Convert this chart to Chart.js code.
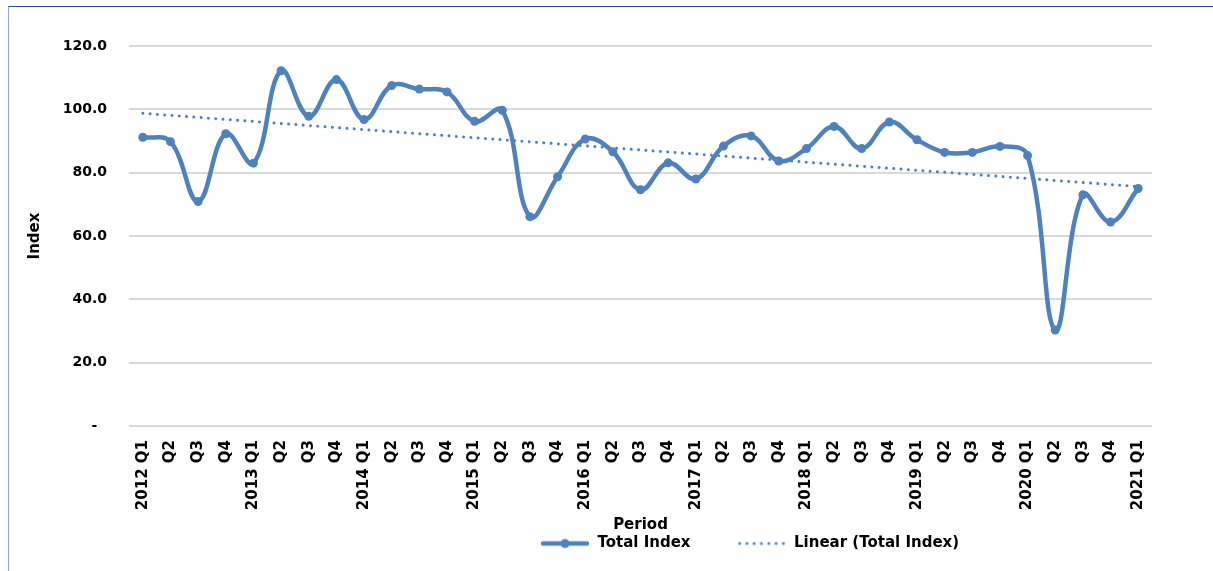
<!DOCTYPE html>
<html>
<head>
<meta charset="utf-8">
<script src="https://cdn.jsdelivr.net/npm/chart.js@4"></script>
<style>
  body { margin: 0; background: #fff; }
  .wrap { position: relative; width: 1213px; height: 571px; overflow: hidden; }
  .frame { position: absolute; left: 8px; top: 6px; width: 1300px; height: 700px;
           border-top: 1px solid #2b4a9e; border-left: 1px solid #8ea6d6; }
  canvas { position: absolute; left: 0; top: 0; }
</style>
</head>
<body>
<div class="wrap">
  <div class="frame"></div>
  <canvas id="chart" width="1213" height="571"></canvas>
</div>
<script>
// data
const periods = [
  '2012 Q1', 'Q2', 'Q3', 'Q4',
  '2013 Q1', 'Q2', 'Q3', 'Q4',
  '2014 Q1', 'Q2', 'Q3', 'Q4',
  '2015 Q1', 'Q2', 'Q3', 'Q4',
  '2016 Q1', 'Q2', 'Q3', 'Q4',
  '2017 Q1', 'Q2', 'Q3', 'Q4',
  '2018 Q1', 'Q2', 'Q3', 'Q4',
  '2019 Q1', 'Q2', 'Q3', 'Q4',
  '2020 Q1', 'Q2', 'Q3', 'Q4',
  '2021 Q1'
];
const totalIndex = [
  91.2, 89.8, 70.9, 92.3,
  83.0, 112.2, 97.8, 109.4,
  96.8, 107.5, 106.4, 105.5,
  96.2, 99.7, 66.1, 78.7,
  90.6, 86.6, 74.6, 83.1,
  78.0, 88.4, 91.6, 83.7,
  87.6, 94.6, 87.6, 96.0,
  90.4, 86.4, 86.4, 88.3,
  85.4, 30.3, 73.0, 64.4,
  75.0
];
const yTicks = [0, 20, 40, 60, 80, 100, 120];

const blue = '#4f81bd';
const font = 'DejaVu Sans';

// linear trend (least squares) of the total index
const n = totalIndex.length;
let sx = 0, sy = 0, sxy = 0, sxx = 0;
totalIndex.forEach((v, i) => { sx += i; sy += v; sxy += i * v; sxx += i * i; });
const slope = (n * sxy - sx * sy) / (n * sxx - sx * sx);
const icpt = (sy - slope * sx) / n;
const trend = totalIndex.map((v, i) => icpt + slope * i);

// legend icons
function lineIcon() {
  const c = document.createElement('canvas');
  c.width = 50; c.height = 12;
  const g = c.getContext('2d');
  g.strokeStyle = blue; g.lineWidth = 4.5; g.lineCap = 'round';
  g.beginPath(); g.moveTo(3, 6); g.lineTo(47, 6); g.stroke();
  g.fillStyle = blue;
  g.beginPath(); g.arc(25, 6, 4.5, 0, Math.PI * 2); g.fill();
  return c;
}
function dotIcon() {
  const c = document.createElement('canvas');
  c.width = 48; c.height = 6;
  const g = c.getContext('2d');
  g.fillStyle = blue;
  for (let x = 2; x < 48; x += 7.3) {
    g.beginPath(); g.arc(x, 3, 1.5, 0, Math.PI * 2); g.fill();
  }
  return c;
}
const icons = [lineIcon(), dotIcon()];

// push the legend to where it sits in the original
// (legend clips to its own box, so only the top moves up)
const legendShift = {
  id: 'legendShift',
  afterLayout(chart) {
    const lg = chart.legend;
    const dx = 540 - (lg.left + lg.options.labels.padding);
    lg.left += dx; lg.right += dx;
    lg.top -= 44;
  }
};

const ctx = document.getElementById('chart').getContext('2d');
new Chart(ctx, {
  type: 'line',
  data: {
    labels: periods,
    datasets: [{
      label: 'Total Index',
      data: totalIndex,
      borderColor: blue,
      backgroundColor: blue,
      borderWidth: 4.5,
      pointRadius: 4.5,
      pointBackgroundColor: blue,
      pointBorderWidth: 0,
      tension: 0.4,
      order: 2
    }, {
      label: 'Linear (Total Index)',
      data: trend,
      borderColor: blue,
      borderWidth: 3,
      borderDash: [0.01, 7.3],
      borderCapStyle: 'round',
      pointRadius: 0,
      tension: 0,
      order: 1
    }]
  },
  options: {
    responsive: false,
    animation: false,
    layout: { padding: { top: 46, right: 61, bottom: 7, left: 0 } },
    plugins: {
      tooltip: { enabled: false },
      legend: {
        position: 'bottom',
        align: 'start',
        maxHeight: 30,
        labels: {
          usePointStyle: true,
          pointStyleWidth: 50,
          padding: 46,
          color: '#000',
          font: { family: font, size: 15, weight: 'bold' },
          generateLabels: (chart) => chart.data.datasets.map((ds, i) => ({
            text: ds.label,
            pointStyle: icons[i],
            datasetIndex: i,
            fontColor: '#000',
            lineWidth: 0,
            strokeStyle: 'transparent',
            fillStyle: 'transparent'
          }))
        }
      }
    },
    scales: {
      x: {
        offset: true,
        grid: { display: false },
        border: { display: false },
        afterFit: (s) => { s.height = 108; },
        ticks: {
          autoSkip: false,
          minRotation: 90,
          maxRotation: 90,
          padding: 6,
          color: '#000',
          font: { family: font, size: 15, weight: 'bold' }
        },
        title: {
          display: true,
          text: 'Period',
          color: '#000',
          padding: { top: 0, bottom: 0 },
          font: { family: font, size: 15, weight: 'bold' }
        }
      },
      y: {
        min: 0,
        max: 120,
        afterFit: (s) => { s.width = 129; },
        afterBuildTicks: (s) => { s.ticks = yTicks.map(v => ({ value: v })); },
        grid: { color: '#d9d9d9', lineWidth: 2, drawTicks: false },
        border: { display: false },
        ticks: {
          padding: 22,
          color: '#000',
          font: { family: font, size: 14, weight: 'bold' },
          callback: (v) => v === 0 ? '-  ' : v.toFixed(1)
        },
        title: {
          display: true,
          text: 'Index',
          color: '#000',
          padding: { top: 26, bottom: 0 },
          font: { family: font, size: 15, weight: 'bold' }
        }
      }
    }
  },
  plugins: [legendShift]
});
</script>
</body>
</html>
